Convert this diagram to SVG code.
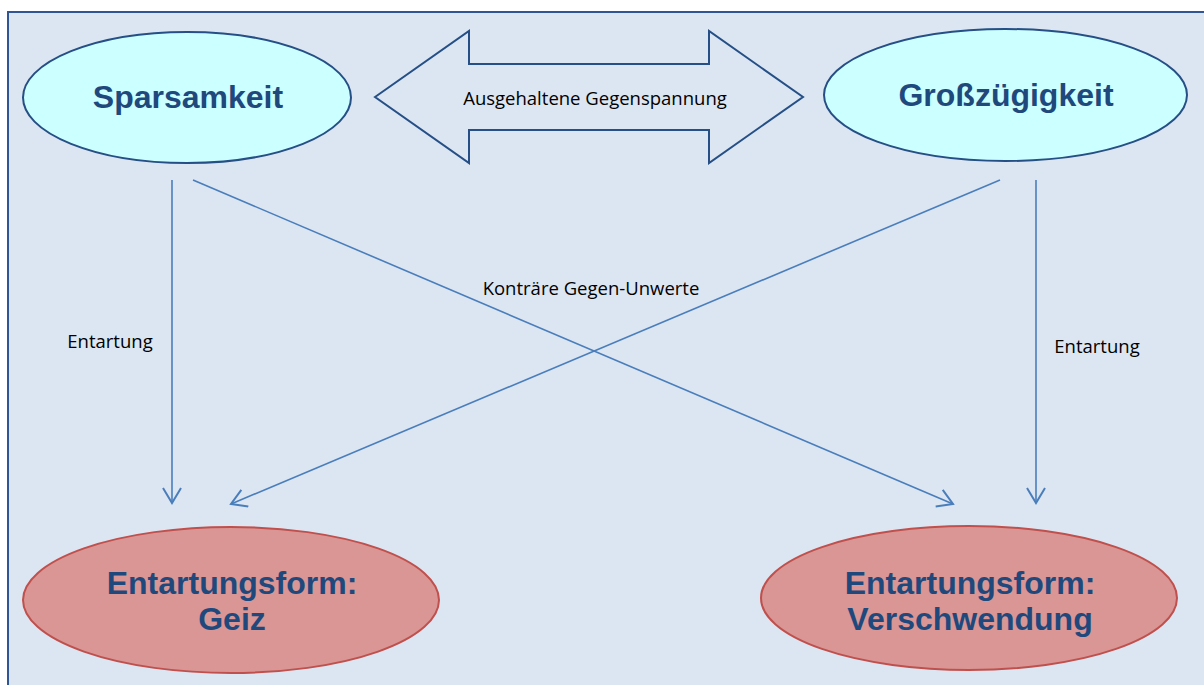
<svg xmlns="http://www.w3.org/2000/svg" width="1204" height="685" viewBox="0 0 1204 685">
<defs>
<style>
.top{fill:#ccffff;stroke:#254f85;stroke-width:2}
.bot{fill:#d99694;stroke:#c0504d;stroke-width:2}
.nt{font-family:"Liberation Sans",Arial,sans-serif;font-weight:bold;font-size:32px;fill:#1f497d;text-anchor:middle}
.lbl{font-family:"Open Sans","Liberation Sans",sans-serif;font-size:18.5px;fill:#000;text-anchor:middle}
.con{stroke:#4a7ebb;stroke-width:1.6;fill:none;marker-end:url(#arr)}
</style>
<marker id="arr" markerWidth="20" markerHeight="22" refX="16" refY="10" orient="auto" markerUnits="userSpaceOnUse">
<path d="M1,1 L16,10 L1,19" fill="none" stroke="#4a7ebb" stroke-width="2"/>
</marker>
</defs>
<rect x="0" y="0" width="1204" height="685" fill="#ffffff"/>
<rect x="8" y="12" width="1210" height="690" fill="#dce6f2" stroke="#2f5597" stroke-width="2"/>
<g id="connectors">
<line class="con" x1="172" y1="180" x2="172" y2="503"/>
<line class="con" x1="193" y1="180" x2="953" y2="504"/>
<line class="con" x1="1000" y1="180" x2="231" y2="504"/>
<line class="con" x1="1036" y1="180" x2="1036" y2="503"/>
<text class="lbl" x="110" y="348">Entartung</text>
<text class="lbl" x="1097" y="353">Entartung</text>
<text class="lbl" x="591" y="295">Konträre Gegen-Unwerte</text>
</g>
<g id="tension">
<path d="M375,97 L469,31 L469,64 L709,64 L709,31 L803,97 L709,163 L709,130 L469,130 L469,163 Z" fill="#dce6f2" stroke="#254f85" stroke-width="2"/>
<text class="lbl" x="595" y="105">Ausgehaltene Gegenspannung</text>
</g>
<g id="sparsamkeit">
<ellipse class="top" cx="187" cy="97.5" rx="164" ry="65.5"/>
<text class="nt" x="188" y="108">Sparsamkeit</text>
</g>
<g id="grosszuegigkeit">
<ellipse class="top" cx="1005.5" cy="95" rx="181.5" ry="66"/>
<text class="nt" x="1006" y="106">Großzügigkeit</text>
</g>
<g id="geiz">
<ellipse class="bot" cx="231" cy="600" rx="208" ry="73"/>
<text class="nt" x="232" y="594">Entartungsform:</text>
<text class="nt" x="232" y="630">Geiz</text>
</g>
<g id="verschwendung">
<ellipse class="bot" cx="969" cy="598" rx="208" ry="72"/>
<text class="nt" x="970" y="594">Entartungsform:</text>
<text class="nt" x="970" y="630">Verschwendung</text>
</g>
</svg>
